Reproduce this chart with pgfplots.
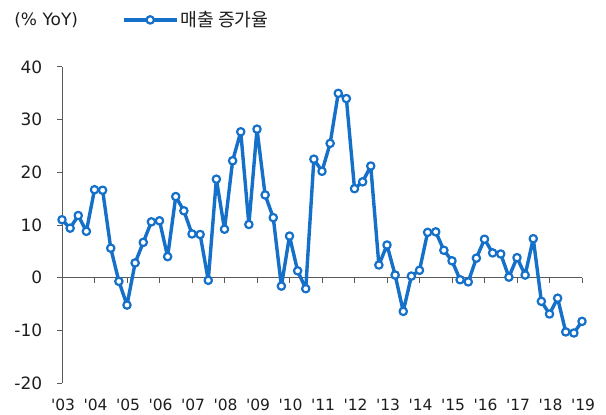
\documentclass[border=0pt]{standalone}
\usepackage{fontspec}
\setmainfont{DejaVu Sans}[Ligatures=TeXOff]
\newfontfamily\kr{Noto Sans CJK KR}
\usepackage{pgfplots}
\pgfplotsset{compat=1.18}
\definecolor{ser}{RGB}{20,112,200}
\definecolor{axg}{RGB}{90,90,90}
\definecolor{txt}{RGB}{30,30,30}
\pgfplotstableread{
x y
0 11.0
1 9.4
2 11.8
3 8.8
4 16.7
5 16.6
6 5.6
7 -0.7
8 -5.2
9 2.8
10 6.7
11 10.6
12 10.8
13 4.0
14 15.4
15 12.7
16 8.3
17 8.2
18 -0.5
19 18.7
20 9.2
21 22.2
22 27.7
23 10.1
24 28.2
25 15.7
26 11.4
27 -1.6
28 7.9
29 1.3
30 -2.1
31 22.5
32 20.2
33 25.5
34 35.0
35 34.0
36 16.9
37 18.2
38 21.2
39 2.4
40 6.2
41 0.5
42 -6.4
43 0.3
44 1.4
45 8.6
46 8.7
47 5.2
48 3.2
49 -0.4
50 -0.8
51 3.7
52 7.3
53 4.7
54 4.5
55 0.1
56 3.8
57 0.5
58 7.4
59 -4.5
60 -6.9
61 -3.9
62 -10.3
63 -10.5
64 -8.3
}\sales
\begin{document}
\fontsize{17bp}{20bp}\selectfont
\begin{tikzpicture}
\begin{axis}[
  scale only axis, width=520bp, height=316bp,
  xmin=0, xmax=64, ymin=-20, ymax=40,
  clip=false,
  axis x line=bottom, axis y line=left,
  x axis line style={draw=none},
  y axis line style={-, axg, line width=1bp},
  xtick={0,4,...,64},
  xticklabels={'03,'04,'05,'06,'07,'08,'09,'10,'11,'12,'13,'14,'15,'16,'17,'18,'19},
  x tick style={draw=none},
  ytick={-20,-10,0,10,20,30,40},
  yticklabels={-20,-10,0,10,20,30,40},
  tick align=outside,
  y tick style={axg, line width=1bp},
  major tick length=5bp,
  yticklabel style={font=\fontsize{17bp}{20bp}\selectfont, text=txt, xshift=-9bp},
  xticklabel style={font=\fontsize{15.5bp}{18bp}\selectfont, text=txt, yshift=-5bp, xshift=1bp},
  legend style={at={(axis description cs:0.115,1.149)}, anchor=west, draw=none, fill=none,
    font=\kr\fontsize{18.3bp}{21bp}\selectfont, text=txt, inner sep=0pt},
  legend cell align=left,
  legend image code/.code={\draw[mark repeat=2,mark phase=2] plot coordinates {(0cm,0cm) (0.935cm,0cm) (1.87cm,0cm)};},
]
\addplot[axg, line width=1bp, forget plot] coordinates {(0,0) (64,0)};
\addplot[ycomb, axg, line width=1bp, forget plot, mark=none] coordinates {(0,-0.95) (4,-0.95) (8,-0.95) (12,-0.95) (16,-0.95) (20,-0.95) (24,-0.95) (28,-0.95) (32,-0.95) (36,-0.95) (40,-0.95) (44,-0.95) (48,-0.95) (52,-0.95) (56,-0.95) (60,-0.95) (64,-0.95)};
\addplot[ser, line width=3.4bp, line join=round, mark=*, mark size=3.7bp, mark options={fill=white, draw=ser, line width=2.2bp}] table[x=x,y=y] {\sales};
\addlegendentry{매출 증가율}
\node[anchor=west, text=txt, inner sep=0pt] at (axis description cs:-0.092,1.149) {(\% YoY)};
\path (rel axis cs:0,0) coordinate (sw) (rel axis cs:1,1) coordinate (ne);
\end{axis}
\pgfresetboundingbox
\path[use as bounding box] ([shift={(-62bp,-31bp)}]sw) rectangle ([shift={(24bp,67bp)}]ne);
\end{tikzpicture}
\end{document}
